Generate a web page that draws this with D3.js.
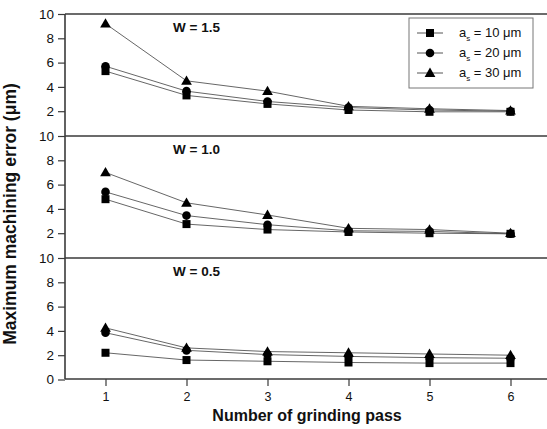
<!DOCTYPE html>
<html>
<head>
<meta charset="utf-8">
<script src="https://cdn.jsdelivr.net/npm/d3@7"></script>
<style>
  html, body { margin: 0; padding: 0; background: #fff; }
  svg { display: block; font-family: "Liberation Sans", Arial, sans-serif; }
</style>
</head>
<body>
<svg id="chart" width="547" height="429"></svg>
<script>
// ---------- data ----------
const passes = [1, 2, 3, 4, 5, 6];
const seriesNames = ["a_s = 10 μm", "a_s = 20 μm", "a_s = 30 μm"];
const seriesShapes = ["square", "circle", "triangle"];
const panelLabels = ["W = 1.5", "W = 1.0", "W = 0.5"];
const yTickValues = [0, 2, 4, 6, 8, 10];

// W = 1.5
const w15_as10 = [5.3, 3.3, 2.6, 2.1, 1.95, 1.95];
const w15_as20 = [5.7, 3.65, 2.8, 2.3, 2.1, 2.0];
const w15_as30 = [9.2, 4.5, 3.65, 2.4, 2.2, 2.05];
// W = 1.0
const w10_as10 = [4.8, 2.75, 2.3, 2.1, 2.0, 1.95];
const w10_as20 = [5.4, 3.45, 2.7, 2.2, 2.15, 1.95];
const w10_as30 = [7.0, 4.5, 3.5, 2.4, 2.3, 2.0];
// W = 0.5
const w05_as10 = [2.2, 1.6, 1.5, 1.4, 1.35, 1.35];
const w05_as20 = [3.85, 2.4, 2.05, 1.9, 1.8, 1.75];
const w05_as30 = [4.25, 2.6, 2.3, 2.2, 2.1, 2.0];

const panels = [
  [w15_as10, w15_as20, w15_as30],
  [w10_as10, w10_as20, w10_as30],
  [w05_as10, w05_as20, w05_as30]
];

// ---------- layout ----------
const svg = d3.select("#chart");
const left = 65, right = 551;
const panelTop = [14, 136, 258];
const panelH = 121.5;
const axisColor = "#3a3a3a";
const lineColor = "#555";

const x = d3.scaleLinear().domain([0.5, 6.5]).range([left, right]);

function marker(g, shape, cx, cy) {
  if (shape === "square") {
    g.append("rect").attr("x", cx - 4).attr("y", cy - 4).attr("width", 8).attr("height", 8).attr("fill", "#000");
  } else if (shape === "circle") {
    g.append("circle").attr("cx", cx).attr("cy", cy).attr("r", 4.3).attr("fill", "#000");
  } else {
    g.append("path").attr("d", d3.symbol().type(d3.symbolTriangle).size(50)()).attr("transform", `translate(${cx},${cy + 0.8})`).attr("fill", "#000");
  }
}

panels.forEach((pdata, pi) => {
  const top = panelTop[pi];
  const y = d3.scaleLinear().domain([0, 10]).range([top + panelH, top]);
  const g = svg.append("g");

  const ticks = pi === 2 ? yTickValues : yTickValues.filter(v => v > 0);
  const ax = g.append("g").attr("transform", `translate(${left},0)`)
    .call(d3.axisLeft(y).tickValues(ticks).tickSize(7).tickPadding(4).tickFormat(d3.format("d")));
  ax.select(".domain").remove();
  ax.selectAll(".tick line").attr("stroke", axisColor).attr("stroke-width", 1.2);
  ax.selectAll(".tick text").attr("font-size", 13.5).attr("fill", "#111")
    .attr("font-family", "'Liberation Sans', Arial, sans-serif");

  g.append("line").attr("x1", left).attr("x2", 547).attr("y1", top).attr("y2", top)
    .attr("stroke", axisColor).attr("stroke-width", 1.6);

  const line = d3.line().x((d, i) => x(passes[i])).y(d => y(d));
  pdata.forEach((vals) => {
    g.append("path").attr("d", line(vals)).attr("fill", "none")
      .attr("stroke", lineColor).attr("stroke-width", 0.9);
  });
  pdata.forEach((vals, si) => {
    vals.forEach((v, i) => marker(g, seriesShapes[si], x(passes[i]), y(v)));
  });

  g.append("text").attr("x", 173).attr("y", top + 18).attr("font-size", 13.5).attr("font-weight", "bold")
    .attr("fill", "#111").text(panelLabels[pi]);
});

svg.append("line").attr("x1", left).attr("x2", left).attr("y1", 14).attr("y2", 379)
  .attr("stroke", axisColor).attr("stroke-width", 1.6);

const yBottom = 379;
const bx = svg.append("g").attr("transform", `translate(0,${yBottom})`)
  .call(d3.axisBottom(x).tickValues(passes).tickSize(7).tickPadding(6).tickFormat(d3.format("d")));
bx.select(".domain").remove();
bx.selectAll(".tick line").attr("stroke", axisColor).attr("stroke-width", 1.2);
bx.selectAll(".tick text").attr("font-size", 12.5).attr("fill", "#111")
  .attr("font-family", "'Liberation Sans', Arial, sans-serif");
svg.append("line").attr("x1", left).attr("x2", 547).attr("y1", yBottom).attr("y2", yBottom)
  .attr("stroke", axisColor).attr("stroke-width", 1.6);

svg.append("text").attr("x", 307).attr("y", 421).attr("text-anchor", "middle")
  .attr("font-size", 16).attr("font-weight", "bold").attr("fill", "#111")
  .text("Number of grinding pass");
svg.append("text").attr("transform", "translate(16,214) rotate(-90)").attr("text-anchor", "middle")
  .attr("font-size", 17.5).attr("font-weight", "bold").attr("fill", "#111")
  .text("Maximum machining error  (μm)");

// legend
const lg = svg.append("g");
lg.append("rect").attr("x", 409).attr("y", 18).attr("width", 124).attr("height", 70)
  .attr("fill", "#fff").attr("stroke", "#777").attr("stroke-width", 1);
seriesNames.forEach((name, i) => {
  const cy = 33 + i * 20;
  lg.append("line").attr("x1", 417).attr("x2", 443).attr("y1", cy).attr("y2", cy)
    .attr("stroke", lineColor).attr("stroke-width", 1);
  marker(lg, seriesShapes[i], 430, cy);
  const t = lg.append("text").attr("x", 459).attr("y", cy + 4).attr("font-size", 13).attr("fill", "#111");
  const parts = name.split("_s");
  t.append("tspan").text(parts[0]);
  t.append("tspan").attr("font-size", 8).attr("dy", 4).text("s");
  t.append("tspan").attr("dy", -4).text(parts[1]);
});
</script>
</body>
</html>
